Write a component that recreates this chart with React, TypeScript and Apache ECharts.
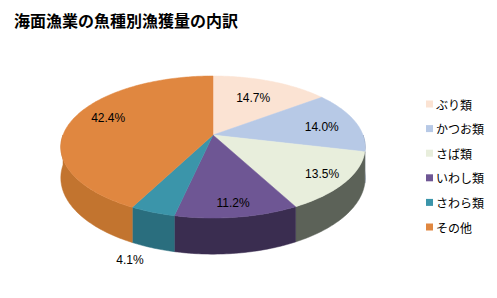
import React, { useEffect, useRef } from "react";
import * as echarts from "echarts";

const categories = ["ぶり類", "かつお類", "さば類", "いわし類", "さわら類", "その他"];
const values = [14.7, 14.0, 13.5, 11.2, 4.1, 42.4];
const topColors = ["#FBE3D3", "#B7C9E6", "#E8EEDC", "#6E5694", "#3B95AA", "#E08740"];
const sideColors = ["#BFA99C", "#6F7F99", "#5C6258", "#3A2D50", "#2A6E7E", "#C2742F"];
const labelRadius = [0.66, 0.76, 0.84, 0.85, 0, 0.74];
const labelDy = [0, 2, 0, 0, 0, -5];
const outsideLabel: ([number, number] | null)[] = [null, null, null, null, [130, 260], null];

const CX = 213;
const CY = 135;
const KX = 150;
const KY = 69;
const A = 0.169;
const DEPTH = 30;

function project(phiDeg: number): [number, number, number] {
  const p = (phiDeg * Math.PI) / 180;
  const u = Math.sin(p);
  const v = -Math.cos(p);
  const w = 1 - A * v;
  return [CX + (KX * u) / w, CY + (KY * v) / w, DEPTH / w];
}

function projectInner(phiDeg: number, r: number): [number, number] {
  const p = (phiDeg * Math.PI) / 180;
  const u = Math.sin(p) * r;
  const v = -Math.cos(p) * r;
  const w = 1 - A * v;
  return [CX + (KX * u) / w, CY + (KY * v) / w];
}

export default function App() {
  const ref = useRef<HTMLDivElement>(null);
  useEffect(() => {
    if (!ref.current) return;
    const chart = echarts.init(ref.current, null, { renderer: "svg" });
    const total = values.reduce((s, x) => s + x, 0);
    const starts: number[] = [];
    let acc = 0;
    values.forEach((v) => {
      starts.push((acc / total) * 360);
      acc += v;
    });

    const series = categories.map((name, i) => ({
      type: "custom",
      name,
      coordinateSystem: "none",
      data: [values[i]],
      itemStyle: { color: topColors[i] },
      renderItem: (params: any, api: any) => {
        const val = api.value(0);
        const a0 = starts[i];
        const a1 = a0 + (val / total) * 360;
        const children: any[] = [];
        const topPts: number[][] = [[CX, CY]];
        const steps = Math.max(2, Math.ceil(a1 - a0));
        for (let k = 0; k <= steps; k++) {
          const ph = a0 + ((a1 - a0) * k) / steps;
          const p = project(ph);
          topPts.push([p[0], p[1]]);
        }
        children.push({
          type: "polygon",
          shape: { points: topPts },
          style: { fill: topColors[i], stroke: topColors[i], lineWidth: 0.5 },
          z2: 10,
        });
        const s0 = Math.max(a0, 90);
        const s1 = Math.min(a1, 270);
        if (s1 > s0) {
          const up: number[][] = [];
          const dn: number[][] = [];
          const st = Math.max(2, Math.ceil(s1 - s0));
          for (let k = 0; k <= st; k++) {
            const ph = s0 + ((s1 - s0) * k) / st;
            const p = project(ph);
            up.push([p[0], p[1]]);
            dn.push([p[0], p[1] + p[2]]);
          }
          children.push({
            type: "polygon",
            shape: { points: up.concat(dn.reverse()) },
            style: { fill: sideColors[i], stroke: sideColors[i], lineWidth: 0.5 },
            z2: 5,
          });
        }
        const pct = ((val / total) * 100).toFixed(1) + "%";
        const mid = (a0 + a1) / 2;
        let lp: [number, number];
        if (outsideLabel[i]) {
          lp = outsideLabel[i] as [number, number];
        } else {
          const q = projectInner(mid, labelRadius[i]);
          lp = [q[0], q[1] + labelDy[i]];
        }
        children.push({
          type: "text",
          x: lp[0],
          y: lp[1],
          style: {
            text: pct,
            fill: "#000",
            font: "12px 'Liberation Sans', Arial, sans-serif",
            align: "center",
            verticalAlign: "middle",
          },
          z2: 20,
        });
        return { type: "group", children };
      },
    }));

    chart.setOption({
      animation: false,
      title: {
        text: "海面漁業の魚種別漁獲量の内訳",
        left: 9,
        top: 7,
        textStyle: {
          fontSize: 16,
          fontWeight: "bold",
          color: "#000",
          fontFamily: "'Noto Sans CJK JP', sans-serif",
        },
      },
      legend: {
        orient: "vertical",
        left: 421,
        top: 93,
        itemWidth: 7,
        itemHeight: 7,
        itemGap: 12.6,
        icon: "rect",
        data: categories,
        textStyle: {
          fontSize: 12,
          color: "#000",
          padding: [0, 0, 0, -2],
          fontFamily: "'Noto Sans CJK JP', sans-serif",
        },
      },
      series,
    } as any);
    return () => chart.dispose();
  }, []);
  return <div ref={ref} style={{ width: 497, height: 298, position: "absolute", left: 0, top: 0, background: "#fff" }} />;
}
